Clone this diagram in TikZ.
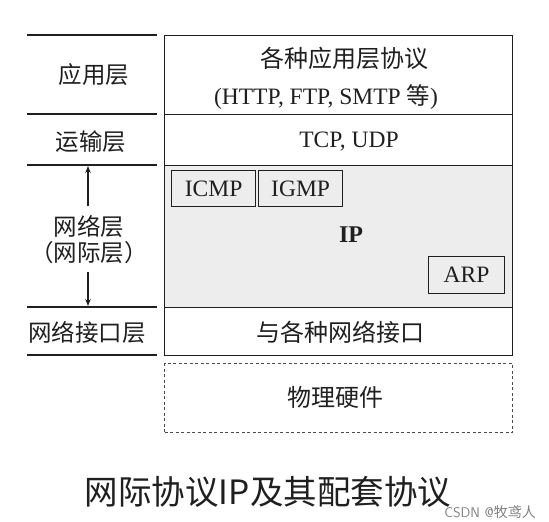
\documentclass[tikz,border=0pt]{standalone}
\usepackage{fontspec}
\setmainfont{Liberation Serif}
\newfontfamily\cjk{Noto Sans CJK SC}
\usetikzlibrary{arrows.meta}
\definecolor{ink}{gray}{0.12}
\begin{document}
\begin{tikzpicture}[x=1pt,y=-1pt,
  layer/.style={draw=ink,line width=1.2pt,minimum width=348pt,inner sep=0pt,anchor=north west},
  sub/.style={draw=ink,line width=1.2pt,inner sep=0pt,anchor=north west,text=ink,font=\fontsize{23.5}{26}\selectfont},
  lbl/.style={font=\cjk\fontsize{23.5}{26}\selectfont,text=ink},
  rtx/.style={font=\fontsize{23.5}{26}\selectfont,text=ink},
  sep/.style={draw=ink,line width=1.2pt},
  arr/.style={draw=ink,line width=1.1pt,-{Stealth[length=7pt,width=5.5pt]}}]
\useasboundingbox (0,0) rectangle (549,522);
% right stack
\node[layer,minimum height=79pt] (app) at (164,35) {};
\node[layer,minimum height=51pt] (trans) at (164,114) {};
\node[layer,minimum height=142pt,fill=black!7] (net) at (164,165) {};
\node[layer,minimum height=48pt] (link) at (164,307) {};
\node[draw=ink!80,line width=1.1pt,dash pattern=on 3pt off 2.5pt,minimum width=348pt,minimum height=69pt,anchor=north west] (phys) at (164,363) {};
% right texts
\node[lbl,font=\cjk\fontsize{24}{26}\selectfont] (appa) at (344,58) {各种应用层协议};
\node[rtx] (appb) at (326,97) {(HTTP, FTP, SMTP {\cjk 等})};
\node[rtx] (tcp) at (349,142) {TCP, UDP};
\node[sub,minimum width=84pt,minimum height=36pt] (icmp) at (171,170) {ICMP};
\node[sub,minimum width=84pt,minimum height=36pt] (igmp) at (258,170) {IGMP};
\node[sub,minimum width=76pt,minimum height=37pt] (arp) at (428,256) {ARP};
\node[text=ink,font=\bfseries\fontsize{24}{26}\selectfont] (ip) at (351,235) {IP};
\node[lbl,font=\cjk\fontsize{24}{26}\selectfont] (nif) at (340,332) {与各种网络接口};
\node[lbl,font=\cjk\fontsize{24}{26}\selectfont] (hw) at (335,397) {物理硬件};
% left lines
\coordinate (l0a) at (27,35);  \coordinate (l0b) at (157,35);
\coordinate (l1a) at (27,114); \coordinate (l1b) at (157,114);
\coordinate (l2a) at (27,165); \coordinate (l2b) at (157,165);
\coordinate (l3a) at (27,307); \coordinate (l3b) at (157,307);
\coordinate (l4a) at (27,355); \coordinate (l4b) at (157,355);
\foreach \i in {0,...,4} {\draw[sep] (l\i a) -- (l\i b);}
% left labels
\node[lbl] (la) at (94,75) {应用层};
\node[lbl] (lt) at (91,142) {运输层};
\node[lbl] (ln) at (89,227) {网络层};
\node[lbl] (lnx) at (89,253) {（网际层）};
\node[lbl] (ll) at (87,333) {网络接口层};
\coordinate (upstart) at (88,206);
\coordinate (upend) at (88,166);
\coordinate (dnstart) at (88,272);
\coordinate (dnend) at (88,306);
\draw[arr] (upstart) -- (upend);
\draw[arr] (dnstart) -- (dnend);
% caption
\node[inner sep=0pt,text=ink,font=\cjk\fontsize{33.5}{38}\selectfont] (cap) at (268,492) {网际协议IP及其配套协议};
\node[inner sep=0pt,font=\sffamily\fontsize{14}{16}\selectfont,text=black!50,anchor=east] (wm) at (536,512) {CSDN @{\cjk 牧鸢人}};
\end{tikzpicture}
\end{document}
